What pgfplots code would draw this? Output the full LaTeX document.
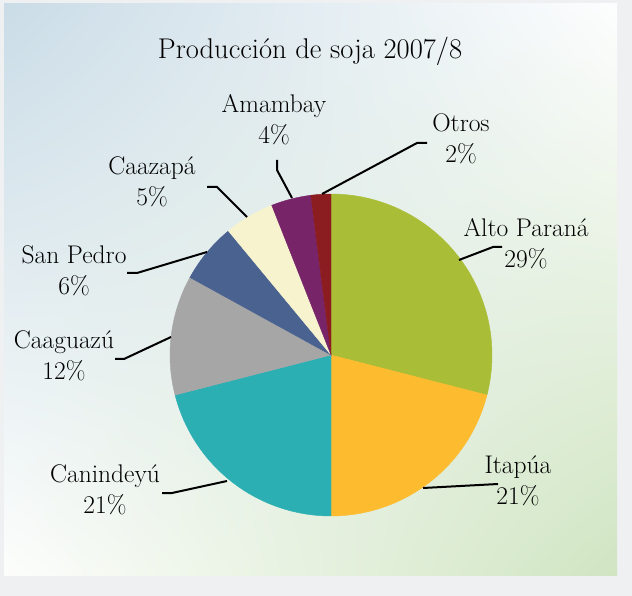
\documentclass[border=0pt]{standalone}
\usepackage{pgfplots}
\pgfplotsset{compat=1.18}
\usepackage{pgfplotstable}
\usetikzlibrary{shadings}
\definecolor{cAlto}{HTML}{A9BD37}
\definecolor{cItapua}{HTML}{FDBB2F}
\definecolor{cCanin}{HTML}{2BAFB3}
\definecolor{cCaag}{HTML}{A7A6A7}
\definecolor{cSanP}{HTML}{4A6290}
\definecolor{cCaaz}{HTML}{F8F3CF}
\definecolor{cAmam}{HTML}{772469}
\definecolor{cOtros}{HTML}{8B1C1F}
\definecolor{bgOuter}{HTML}{EFF0F2}
\definecolor{bgBlue}{HTML}{CADCE7}
\definecolor{bgGreen}{HTML}{D0E5C2}
\tikzset{lab/.style={font=\fontsize{25.5}{31}\selectfont, align=center, text=black, inner sep=0pt}}
% cumulative start, value, colour
\newcommand{\pieslice}[3]{%
  \pgfmathsetmacro\sA{90-3.6*(#1)}%
  \pgfmathsetmacro\sB{90-3.6*(#1+#2)}%
  \addplot[draw=#3, line width=0.4pt, fill=#3, domain=\sA:\sB, samples=80]
    ({331+161*cos(x)},{355-161*sin(x)}) -- (axis cs:331,355) -- cycle;
}
\begin{document}
\begin{tikzpicture}
\fill[bgOuter] (0,0) rectangle (632pt,596pt);
\shade[upper left=bgBlue, upper right=white!96!bgBlue, lower left=white!95!bgGreen, lower right=bgGreen]
  (4pt,20pt) rectangle (617pt,592pt);
\begin{axis}[x=1pt, y=1pt, xmin=0, xmax=632, ymin=0, ymax=596, y dir=reverse,
  hide axis, clip=false]
\pieslice{0}{29}{cAlto}
\pieslice{29}{21}{cItapua}
\pieslice{50}{21}{cCanin}
\pieslice{71}{12}{cCaag}
\pieslice{83}{6}{cSanP}
\pieslice{89}{5}{cCaaz}
\pieslice{94}{4}{cAmam}
\pieslice{98}{2}{cOtros}
% leader lines
\begin{scope}[line width=2pt, black]
\draw (axis cs:459,260) -- (axis cs:493,247) -- (axis cs:502,247);
\draw (axis cs:423,488) -- (axis cs:498,484);
\draw (axis cs:227,481) -- (axis cs:172,493) -- (axis cs:162,493);
\draw (axis cs:171,337) -- (axis cs:124,359) -- (axis cs:115,359);
\draw (axis cs:207,252) -- (axis cs:137,273) -- (axis cs:127,273);
\draw (axis cs:247,217) -- (axis cs:217,187) -- (axis cs:207,187);
\draw (axis cs:292,198) -- (axis cs:277,170) -- (axis cs:277,160);
\draw (axis cs:322,194) -- (axis cs:417,143) -- (axis cs:427,143);
\end{scope}
\node[lab, font=\fontsize{28.5}{34}\selectfont] at (axis cs:310,51) {Producción de soja 2007/8};
\node[lab] at (axis cs:526,244) {Alto Paraná\\29\%};
\node[lab] at (axis cs:518,481) {Itapúa\\21\%};
\node[lab] at (axis cs:105,490) {Canindeyú\\21\%};
\node[lab] at (axis cs:64,356) {Caaguazú\\12\%};
\node[lab] at (axis cs:74,271) {San Pedro\\6\%};
\node[lab] at (axis cs:152,182) {Caazapá\\5\%};
\node[lab] at (axis cs:274,120) {Amambay\\4\%};
\node[lab] at (axis cs:461,139) {Otros\\2\%};
\end{axis}
\end{tikzpicture}
\end{document}
